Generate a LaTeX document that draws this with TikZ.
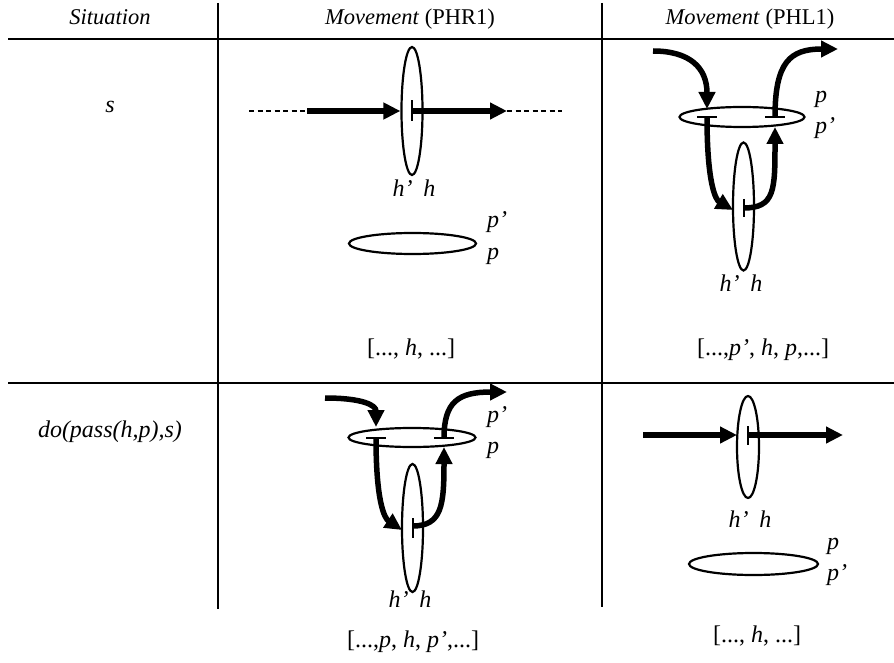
\documentclass[tikz,border=0pt]{standalone}
\usepackage{fontspec}
\setmainfont{Liberation Serif}
\usetikzlibrary{arrows.meta,shapes.geometric}
\begin{document}
\begin{tikzpicture}[x=1pt,y=-1pt,
  rule/.style={line width=1.5pt},
  oval/.style={draw, ellipse, line width=2.2pt, inner sep=0pt},
  vov/.style={oval, minimum width=21pt, minimum height=128pt},
  hov/.style={oval, minimum width=127pt, minimum height=21pt},
  mv/.style={line width=5.5pt, -{Triangle[length=17pt,width=16pt]}},
  tbar/.style={line width=2pt},
  dashline/.style={line width=2pt, dash pattern=on 5pt off 3.5pt},
  lbl/.style={font=\fontsize{24}{28}\selectfont, inner sep=0pt, anchor=base},
  hdr/.style={lbl, font=\fontsize{22.5}{26}\selectfont},
  lblw/.style={lbl, anchor=base west},
  ]
\useasboundingbox (0,0) rectangle (894,663);
% table rules
\coordinate (hl1a) at (8,39);   \coordinate (hl1b) at (894,39);
\coordinate (hl2a) at (8,383);  \coordinate (hl2b) at (894,383);
\coordinate (vl1a) at (218,3);  \coordinate (vl1b) at (218,609);
\coordinate (vl2a) at (602,3);  \coordinate (vl2b) at (602,607);
\draw[rule] (hl1a) -- (hl1b);
\draw[rule] (hl2a) -- (hl2b);
\draw[rule] (vl1a) -- (vl1b);
\draw[rule] (vl2a) -- (vl2b);
% headers
\node[hdr] (hd1) at (110,25) {\textit{Situation}};
\node[hdr] (hd2) at (410,25) {\textit{Movement} (PHR1)};
\node[hdr] (hd3) at (750,25) {\textit{Movement} (PHL1)};
% left column
\node[lbl] (sit1) at (110,113) {\textit{s}};
\node[lbl] (sit2) at (110,437) {\textit{do(pass(h,p),s)}};

% ---------- row 1, PHR1 ----------
\node[vov] (hR1) at (412,111) {};
\coordinate (dA) at (249,111); \coordinate (dB) at (307,111);
\coordinate (dC) at (507,111); \coordinate (dD) at (562,111);
\coordinate (tR1a) at (412,100.5); \coordinate (tR1b) at (412,121.5);
\draw[dashline] (dA) -- (dB);
\draw[mv] (dB) -- (hR1.west);
\draw[tbar] (tR1a) -- (tR1b);
\draw[mv] (hR1.center) -- (dC);
\draw[dashline] (dC) -- (dD);
\node[lbl] (hhR1) at (414,197) {\textit{h’\hspace{0.45em}h}};
\node[hov] (pR1) at (412.5,243.5) {};
\node[lblw] (pR1u) at (487,228) {\textit{p’}};
\node[lblw] (pR1d) at (487,259) {\textit{p}};
\node[lbl] (lsR1) at (411,355) {[..., \textit{h}, ...]};

% ---------- row 1, PHL1 ----------
\node[hov, minimum width=125pt, minimum height=20pt] (pL1) at (742,117) {};
\node[vov] (hL1) at (743.5,206.5) {};
\node[lblw] (pL1u) at (815,103) {\textit{p}};
\node[lblw] (pL1d) at (815,134) {\textit{p’}};
\node[lbl] (hhL1) at (741,291) {\textit{h’\hspace{0.45em}h}};
\node[lbl] (lsL1) at (763,355) {[...,\textit{p’}, \textit{h}, \textit{p},...]};
\coordinate (a1s) at (653,51);  \coordinate (a1e) at (707,109);
\coordinate (b1a) at (697,117); \coordinate (b1b) at (717,117); \coordinate (b1c) at (707,117);
\coordinate (a2e) at (733,210);
\coordinate (b2a) at (743.5,199); \coordinate (b2b) at (743.5,217); \coordinate (b2c) at (743.5,208);
\coordinate (a3e) at (775,127);
\coordinate (b3a) at (765,117); \coordinate (b3b) at (785,117); \coordinate (b3c) at (775,117);
\coordinate (a4e) at (838,49);
\draw[mv] (a1s) .. controls (690,51) and (707,68) .. (a1e);
\draw[tbar] (b1a) -- (b1b);
\draw[mv] (b1c) .. controls (707,185) and (716,200) .. (a2e);
\draw[tbar] (b2a) -- (b2b);
\draw[mv] (b2c) .. controls (775,208) and (775,190) .. (a3e);
\draw[tbar] (b3a) -- (b3b);
\draw[mv] (b3c) .. controls (775,62) and (790,49) .. (a4e);

% ---------- row 2, PHR1 ----------
\node[hov, minimum height=19pt] (pR2) at (412,437.5) {};
\node[vov] (hR2) at (412.5,528) {};
\node[lblw] (pR2u) at (487,422.5) {\textit{p’}};
\node[lblw] (pR2d) at (487,453.5) {\textit{p}};
\node[lbl] (hhR2) at (410,607) {\textit{h’\hspace{0.45em}h}};
\node[lbl] (lsR2) at (413,647) {[...,\textit{p}, \textit{h}, \textit{p’},...]};
\coordinate (c1s) at (325,398); \coordinate (c1e) at (376,427);
\coordinate (d1a) at (366,438); \coordinate (d1b) at (386,438); \coordinate (d1c) at (376,438);
\coordinate (c2e) at (402,530);
\coordinate (d2a) at (412.5,518); \coordinate (d2b) at (412.5,538); \coordinate (d2c) at (412.5,526);
\coordinate (c3e) at (444,447);
\coordinate (d3a) at (434,438); \coordinate (d3b) at (454,438); \coordinate (d3c) at (444,438);
\coordinate (c4e) at (507,392);
\draw[mv] (c1s) .. controls (362,398) and (376,405) .. (c1e);
\draw[tbar] (d1a) -- (d1b);
\draw[mv] (d1c) .. controls (376,500) and (384,518) .. (c2e);
\draw[tbar] (d2a) -- (d2b);
\draw[mv] (d2c) .. controls (442,526) and (444,505) .. (c3e);
\draw[tbar] (d3a) -- (d3b);
\draw[mv] (d3c) .. controls (444,402) and (458,392) .. (c4e);

% ---------- row 2, PHL1 ----------
\node[vov, minimum width=22pt, minimum height=102pt] (hL2) at (748,447) {};
\coordinate (eA) at (643,435); \coordinate (eB) at (843,435);
\coordinate (eW) at (737,435); \coordinate (eC) at (748,435);
\coordinate (tL2a) at (748,426); \coordinate (tL2b) at (748,445);
\draw[mv] (eA) -- (eW);
\draw[tbar] (tL2a) -- (tL2b);
\draw[mv] (eC) -- (eB);
\node[lbl] (hhL2) at (750,527) {\textit{h’\hspace{0.45em}h}};
\node[hov, minimum width=129pt, minimum height=22pt] (pL2) at (753.5,564) {};
\node[lblw] (pL2u) at (827,549) {\textit{p}};
\node[lblw] (pL2d) at (827,580) {\textit{p’}};
\node[lbl] (lsL2) at (757,642) {[..., \textit{h}, ...]};
\end{tikzpicture}
\end{document}
